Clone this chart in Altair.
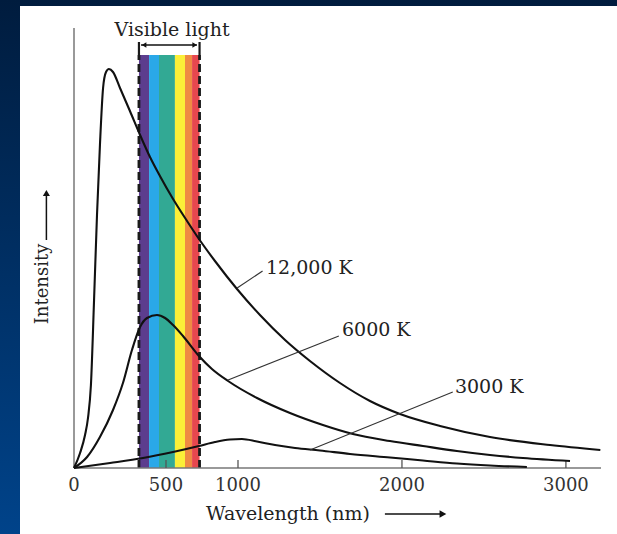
import altair as alt
import pandas as pd

# ---------------- data ----------------
wl_12000 = [0, 33, 60, 76, 92, 109, 125, 141, 158, 174, 190, 212, 250, 304, 359, 413, 467, 549, 646, 729,
            840, 993, 1134, 1287, 1439, 1622, 1805, 1988, 2232, 2537, 2903, 3210]
int_12000 = [0, 15, 33, 50, 83, 168, 253, 323, 380, 396, 399, 396, 380, 357, 333, 311, 292, 269, 247, 229,
             207, 179, 153, 128, 107, 85, 67, 54, 42, 31, 23, 18]

wl_6000 = [0, 71, 141, 212, 266, 315, 359, 397, 451, 495, 549, 618, 729, 819, 931, 1116, 1317, 1518, 1701,
           1927, 2128, 2335, 2537, 2738, 3025]
int_6000 = [0, 11, 31, 58, 85, 118, 141, 150, 153, 150, 143, 132, 112, 99, 87, 70, 55, 43, 34,
            27, 22, 17, 13, 10, 7]

wl_3000 = [0, 196, 375, 549, 729, 840, 944, 1024, 1116, 1226, 1348, 1500, 1683, 1927, 2128, 2335, 2537, 2762]
int_3000 = [0, 5, 10, 16, 22, 26, 28.5, 29, 26.5, 23, 20, 17.5, 14, 10.5, 7.5, 4.5, 2.5, 1]

# visible band (colour strips)
band_start = [353, 408, 462, 562, 632, 681]
band_end = [408, 462, 562, 632, 681, 733]
band_colors = ["#5c3d8e", "#2aa8e8", "#32a994", "#fbef38", "#ef8a43", "#e7474e"]
band_top = 413
visible_edges = [353, 733]
edge_top = 426

tick_values = [500, 1000, 2000, 3000]
label_values = [0, 500, 1000, 2000, 3000]
x_max = 3214
y_max = 440

# curve labels and leader lines
curve_names = ["12,000 K", "6000 K", "3000 K"]
label_x = [1171, 1634, 2323]
label_y = [200, 138, 81]
leader_x1 = [994, 931, 1439]
leader_y1 = [180, 88, 18]
leader_x2 = [1150, 1615, 2310]
leader_y2 = [197, 132, 76]

# ---------------- tables ----------------
curves = pd.concat([
    pd.DataFrame({"wl": wl_12000, "I": int_12000, "T": "12000"}),
    pd.DataFrame({"wl": wl_6000, "I": int_6000, "T": "6000"}),
    pd.DataFrame({"wl": wl_3000, "I": int_3000, "T": "3000"}),
])
band = pd.DataFrame({"s": band_start, "e": band_end, "c": band_colors,
                     "b": [0] * len(band_start), "t": [band_top] * len(band_start)})
edges = pd.DataFrame({"x": visible_edges, "b": [0, 0], "t": [band_top, band_top], "tt": [edge_top, edge_top]})
ticks = pd.DataFrame({"x": tick_values, "b": [0] * 4, "t": [8] * 4})
tick_labels = pd.DataFrame({"x": label_values, "y": [-18] * 5, "text": [str(v) for v in label_values]})
axes_df = pd.DataFrame({"x1": [0, 0], "x2": [x_max, 0], "y1": [0, 0], "y2": [0, y_max]})
labels = pd.DataFrame({"text": curve_names, "x": label_x, "y": label_y})
leaders = pd.DataFrame({"x1": leader_x1, "y1": leader_y1, "x2": leader_x2, "y2": leader_y2})

# annotation texts / arrows
notes = pd.DataFrame({"text": ["Visible light", "Wavelength (nm)"], "x": [542, 1305], "y": [438, -46]})
vis_arrow = pd.DataFrame({"x1": [364], "x2": [715], "y": [423]})
vis_heads = pd.DataFrame({"x": [381, 699], "y": [423, 423], "shape": ["triangle-left", "triangle-right"]})
wl_arrow = pd.DataFrame({"x1": [1896], "x2": [2240], "y": [-46]})
wl_head = pd.DataFrame({"x": [2250], "y": [-46]})
int_note = pd.DataFrame({"text": ["Intensity"], "x": [-170], "y": [184]})
int_arrow = pd.DataFrame({"x": [-150], "y1": [228], "y2": [272]})
int_head = pd.DataFrame({"x": [-150], "y": [275]})

one = pd.DataFrame({"a": [0]})

xs = alt.Scale(domain=[0, 500, 1000, x_max], range=[0, 92, 164, 527], nice=False, zero=False)
ys = alt.Scale(domain=[0, y_max], nice=False, zero=False)
SERIF = "DejaVu Serif"

def X(f):
    return alt.X(f, type="quantitative", scale=xs, axis=None)

def Y(f):
    return alt.Y(f, type="quantitative", scale=ys, axis=None)

grad = alt.LinearGradient(
    gradient="linear",
    stops=[alt.GradientStop(color="#001c3e", offset=0), alt.GradientStop(color="#00438a", offset=1)],
    x1=0, x2=0, y1=0, y2=1,
)

bg = alt.Chart(one).mark_rect(fill=grad).encode(
    x=alt.value(-74), x2=alt.value(543), y=alt.value(-28), y2=alt.value(506))
white = alt.Chart(one).mark_rect(fill="white").encode(
    x=alt.value(-54), x2=alt.value(543), y=alt.value(-22), y2=alt.value(506))

band_l = alt.Chart(band).mark_rect().encode(
    x=X("s"), x2="e", y=Y("b"), y2="t", color=alt.Color("c:N", scale=None))

dash_l = alt.Chart(edges).mark_rule(color="#1a1a1a", strokeWidth=2.8, strokeDash=[8, 4]).encode(
    x=X("x"), y=Y("b"), y2="t")
top_l = alt.Chart(edges).mark_rule(color="#1a1a1a", strokeWidth=2.2).encode(
    x=X("x"), y=Y("t"), y2="tt")

axis_l = alt.Chart(axes_df).mark_rule(color="#777", strokeWidth=1.5).encode(
    x=X("x1"), x2="x2", y=Y("y1"), y2="y2")
tick_l = alt.Chart(ticks).mark_rule(color="#555", strokeWidth=1.3).encode(
    x=X("x"), y=Y("b"), y2="t")
tick_label_l = alt.Chart(tick_labels).mark_text(font=SERIF, fontSize=18, align="center", baseline="middle",
                                                color="#333").encode(x=X("x"), y=Y("y"), text="text:N")

curve_l = alt.Chart(curves).mark_line(color="#111", strokeWidth=2.1, interpolate="monotone").encode(
    x=X("wl"), y=Y("I"), detail="T:N")

leader_l = alt.Chart(leaders).mark_rule(color="#333", strokeWidth=1.1).encode(
    x=X("x1"), y=Y("y1"), x2="x2", y2="y2")

label_l = alt.Chart(labels).mark_text(font=SERIF, fontSize=19, align="left", baseline="middle",
                                      color="#222").encode(x=X("x"), y=Y("y"), text="text:N")

note_l = alt.Chart(notes).mark_text(font=SERIF, fontSize=19, align="center", baseline="middle",
                                    color="#222").encode(x=X("x"), y=Y("y"), text="text:N")

vis_arrow_l = alt.Chart(vis_arrow).mark_rule(color="#111", strokeWidth=1.3).encode(
    x=X("x1"), x2="x2", y=Y("y"))
vis_heads_l = alt.Chart(vis_heads).mark_point(filled=True, size=28, color="#111", opacity=1).encode(
    x=X("x"), y=Y("y"), shape=alt.Shape("shape:N", scale=None))

wl_arrow_l = alt.Chart(wl_arrow).mark_rule(color="#111", strokeWidth=1.5).encode(
    x=X("x1"), x2="x2", y=Y("y"))
wl_head_l = alt.Chart(wl_head).mark_point(filled=True, size=60, color="#111", opacity=1,
                                          shape="triangle-right").encode(x=X("x"), y=Y("y"))

int_note_l = alt.Chart(int_note).mark_text(font=SERIF, fontSize=18, align="center", baseline="middle",
                                           angle=270, color="#222").encode(x=X("x"), y=Y("y"), text="text:N")
int_arrow_l = alt.Chart(int_arrow).mark_rule(color="#111", strokeWidth=1.5).encode(
    x=X("x"), y=Y("y1"), y2="y2")
int_head_l = alt.Chart(int_head).mark_point(filled=True, size=50, color="#111", opacity=1,
                                            shape="triangle-up").encode(x=X("x"), y=Y("y"))

chart = alt.layer(
    bg, white, band_l, dash_l, top_l, axis_l, tick_l, tick_label_l, curve_l, leader_l, label_l, note_l,
    vis_arrow_l, vis_heads_l, wl_arrow_l, wl_head_l, int_note_l, int_arrow_l, int_head_l,
).properties(
    width=527, height=440,
    padding={"left": 74, "top": 28, "right": 16, "bottom": 66},
    autosize=alt.AutoSizeParams(type="none"),
    background="white",
).configure_view(stroke=None)

chart.save("out.html", embed_options={"renderer": "svg", "actions": False})
